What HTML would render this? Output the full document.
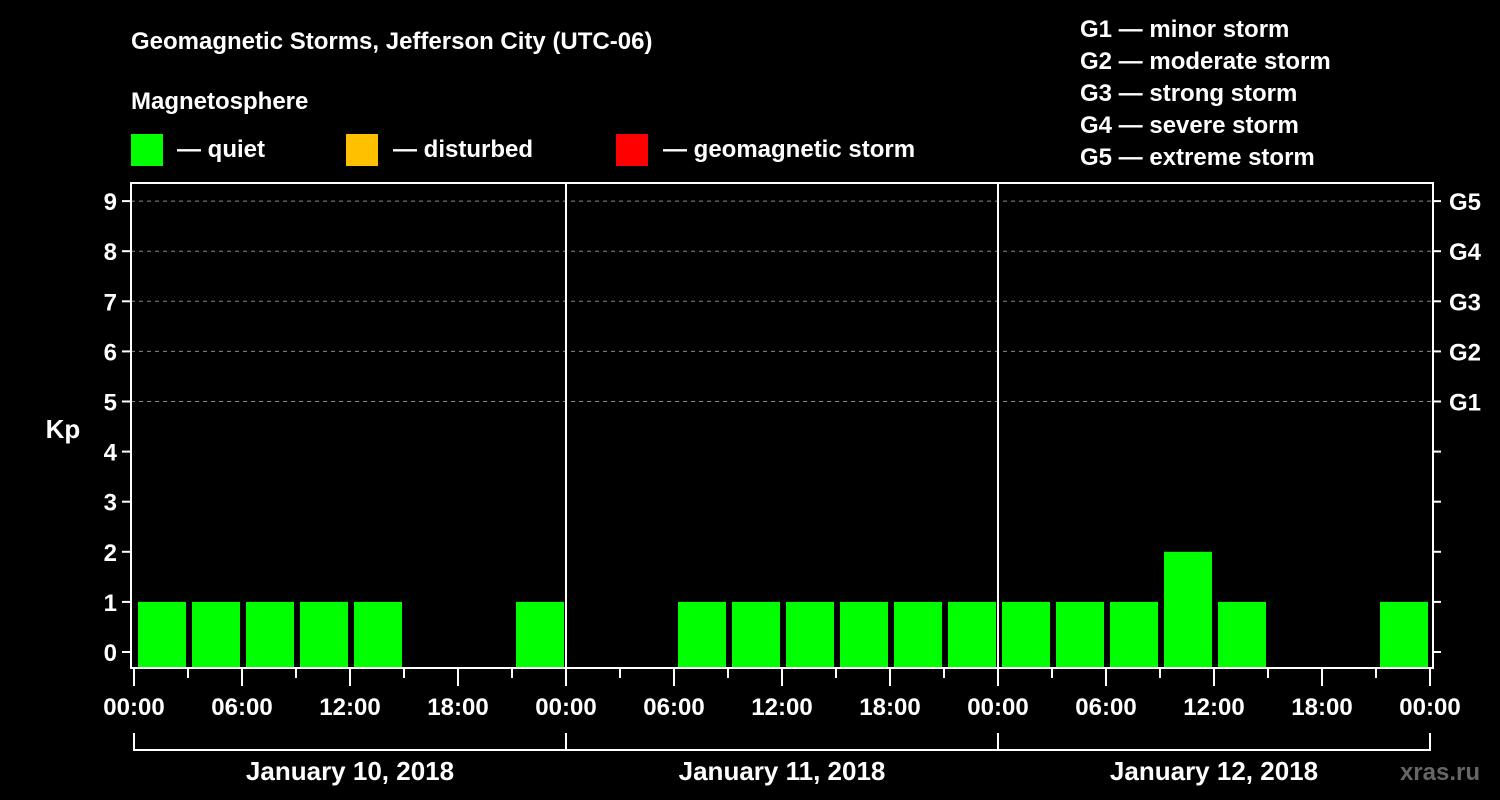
<!DOCTYPE html>
<html><head><meta charset="utf-8"><style>
body{margin:0;background:#000;width:1500px;height:800px;overflow:hidden}
svg{display:block;font-family:"Liberation Sans",Arial,sans-serif;font-weight:bold}
</style></head><body>
<svg id="c" width="1500" height="800">
<rect width="1500" height="800" fill="#000"/>
<text x="131" y="49" fill="#fff" font-size="24">Geomagnetic Storms, Jefferson City (UTC-06)</text>
<text x="131" y="109" fill="#fff" font-size="24">Magnetosphere</text>
<g><rect x="131" y="134" width="32" height="32" fill="#00ff00"/><text x="177" y="157" fill="#fff" font-size="24">— quiet</text></g>
<g><rect x="346" y="134" width="32" height="32" fill="#ffc000"/><text x="393" y="157" fill="#fff" font-size="24">— disturbed</text></g>
<g><rect x="616" y="134" width="32" height="32" fill="#ff0000"/><text x="663" y="157" fill="#fff" font-size="24">— geomagnetic storm</text></g>
<g fill="#fff" font-size="24">
<text x="1080" y="37">G1 — minor storm</text>
<text x="1080" y="69">G2 — moderate storm</text>
<text x="1080" y="101">G3 — strong storm</text>
<text x="1080" y="133">G4 — severe storm</text>
<text x="1080" y="165">G5 — extreme storm</text>
</g>
<text x="63" y="438" fill="#fff" font-size="26" text-anchor="middle">Kp</text>
<text x="1480" y="780" fill="#666" font-size="24" text-anchor="end">xras.ru</text>
<g id="plot"></g>
</svg>
<script>
const days = ["January 10, 2018","January 11, 2018","January 12, 2018"];
const kpValues = [1,1,1,1,1,0,0,1, 0,0,1,1,1,1,1,1, 1,1,1,2,1,0,0,1];
const hourLabels = ["00:00","06:00","12:00","18:00"];
const gLabels = ["G1","G2","G3","G4","G5"];
const ns="http://www.w3.org/2000/svg";
const g=document.getElementById('plot');
const X0=134, DAYW=432, Y0=652, YU=50.1, TOP=183, BOT=668, LEFT=131, RIGHT=1433;
const xs=h=>X0+h*DAYW/24;
const ys=v=>Y0-v*YU;
function mk(t,a,txt){const e=document.createElementNS(ns,t);for(const k in a)e.setAttribute(k,a[k]);if(txt!=null)e.textContent=txt;g.appendChild(e);return e;}
// grid
for(let v=5;v<=9;v++){
 const l=mk('line',{x1:LEFT,x2:RIGHT,y1:ys(v),y2:ys(v),stroke:'#888','stroke-dasharray':'4,4','stroke-width':1});
 
 
}
// bars
kpValues.forEach((v,i)=>{
 if(v<=0)return;
 const col=v>=5?'#ff0000':(v>=4?'#ffc000':'#00ff00');
 const r=mk('rect',{x:xs(i*3)+4,y:ys(v),width:48,height:BOT-ys(v),fill:col});
 
 
});
// frame
const fr=mk('rect',{x:LEFT,y:TOP,width:RIGHT-LEFT,height:BOT-TOP,fill:'none',stroke:'#fff','stroke-width':2});


for(let d=1;d<days.length;d++){
 const l=mk('line',{x1:xs(d*24),x2:xs(d*24),y1:TOP,y2:BOT,stroke:'#fff','stroke-width':2});
 
 
}
// y ticks
for(let v=0;v<=9;v++){
 mk('line',{x1:LEFT-9,x2:LEFT,y1:ys(v),y2:ys(v),stroke:'#fff','stroke-width':2});
 mk('line',{x1:RIGHT,x2:RIGHT+8,y1:ys(v),y2:ys(v),stroke:'#fff','stroke-width':2});
 const t=mk('text',{x:LEFT-14,y:ys(v)+9,fill:'#fff','font-size':24,'text-anchor':'end'},String(v));
 
 
}
gLabels.forEach((s,i)=>{
 const t=mk('text',{x:1449,y:ys(5+i)+9,fill:'#fff','font-size':24},s);
 
 
});
// x ticks
for(let h=0;h<=days.length*24;h+=3){
 const major=h%6===0;
 mk('line',{x1:xs(h),x2:xs(h),y1:BOT,y2:major?686:678,stroke:'#fff','stroke-width':2});
 if(major){
  const t=mk('text',{x:xs(h),y:715,fill:'#fff','font-size':24,'text-anchor':'middle'},hourLabels[(h%24)/6]);
  
  
 }
}
days.forEach((d,i)=>{
 const a=xs(i*24),b=xs((i+1)*24);
 mk('path',{d:`M${a} 733V750H${b}V733`,stroke:'#fff','stroke-width':2,fill:'none'});
 const t=mk('text',{x:(a+b)/2,y:780,fill:'#fff','font-size':26,'text-anchor':'middle'},d);
 
 
});
</script>
</body></html>
